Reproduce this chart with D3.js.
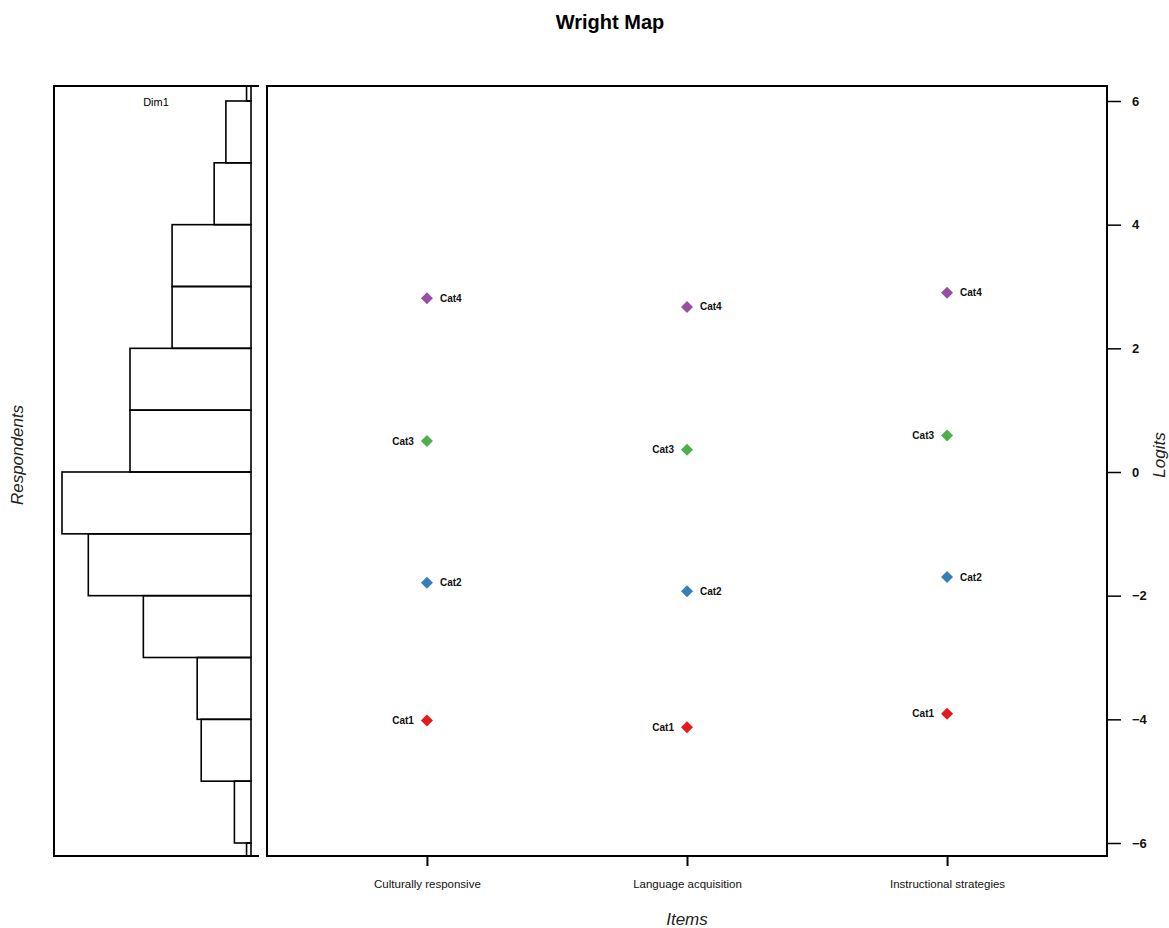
<!DOCTYPE html>
<html>
<head>
<meta charset="utf-8">
<script src="https://cdn.jsdelivr.net/npm/d3@7"></script>
<style>
  html, body { margin: 0; padding: 0; background: #fff; }
  svg { display: block; font-family: "Liberation Sans", Arial, sans-serif; }
</style>
</head>
<body>
<svg id="chart" width="1169" height="928"></svg>
<script>
// ---------- data ----------
const items = ["Culturally responsive", "Language acquisition", "Instructional strategies"];
const categories = ["Cat1", "Cat2", "Cat3", "Cat4"];
const catColors = ["#E41A1C", "#377EB8", "#4DAF4A", "#984EA3"];
// thresholds (logits) per item, Cat1..Cat4
const cat1 = [-4.02, -4.13, -3.91];
const cat2 = [-1.79, -1.93, -1.70];
const cat3 = [0.50, 0.36, 0.59];
const cat4 = [2.81, 2.67, 2.90];
// respondent histogram: bin lower edges (width 1 logit) and counts
const binLower = [6, 5, 4, 3, 2, 1, 0, -1, -2, -3, -4, -5, -6, -7];
const binCounts = [1.1, 6.2, 9.1, 19.5, 19.5, 29.9, 29.9, 46.7, 40.2, 26.6, 13.3, 12.3, 4.1, 1.1];
const yTicks = [-6, -4, -2, 0, 2, 4, 6];

// ---------- layout ----------
const svg = d3.select("#chart");
const main = { left: 267, right: 1107, top: 86, bottom: 856 };
const hist = { left: 54, right: 259, top: 86, bottom: 856 };

const y = d3.scaleLinear().domain([-6, 6]).range([843, 101]);
const x = d3.scalePoint().domain(items).range([main.left, main.right]).padding(0.615);
const hx = d3.scaleLinear().domain([0, d3.max(binCounts)]).range([251, 62]);

// title
svg.append("text").attr("x", 610).attr("y", 29).attr("text-anchor", "middle")
  .attr("font-size", 20).attr("font-weight", "bold").text("Wright Map");

// ---------- histogram panel ----------
svg.append("clipPath").attr("id", "hclip").append("rect")
  .attr("x", hist.left).attr("y", hist.top).attr("width", hist.right - hist.left).attr("height", hist.bottom - hist.top);
const hg = svg.append("g").attr("clip-path", "url(#hclip)");
const bins = binLower.map((b, i) => ({ lo: b, hi: b + 1, n: binCounts[i] }));
hg.selectAll("rect.bar").data(bins).join("rect").attr("class", "bar")
  .attr("x", d => hx(d.n)).attr("width", d => hx(0) - hx(d.n))
  .attr("y", d => y(d.hi)).attr("height", d => y(d.lo) - y(d.hi))
  .attr("fill", "none").attr("stroke", "#000").attr("stroke-width", 1.6);
// box (left, top, bottom)
svg.append("path")
  .attr("d", `M${hist.right},${hist.top}H${hist.left}V${hist.bottom}H${hist.right}`)
  .attr("fill", "none").attr("stroke", "#000").attr("stroke-width", 2);
svg.append("text").attr("x", 156).attr("y", 106).attr("text-anchor", "middle")
  .attr("font-size", 11).text("Dim1");
svg.append("text").attr("transform", "translate(23,455) rotate(-90)")
  .attr("text-anchor", "middle").attr("font-size", 17).attr("font-style", "italic")
  .attr("fill", "#222").text("Respondents");

// ---------- main panel ----------
svg.append("rect").attr("x", main.left).attr("y", main.top)
  .attr("width", main.right - main.left).attr("height", main.bottom - main.top)
  .attr("fill", "none").attr("stroke", "#000").attr("stroke-width", 2);

// right axis
const yAxis = d3.axisRight(y).tickValues(yTicks).tickSize(14).tickPadding(11)
  .tickFormat(d => d < 0 ? "\u2212" + Math.abs(d) : d);
const ya = svg.append("g").attr("transform", `translate(${main.right},0)`).call(yAxis);
ya.select(".domain").remove();
ya.selectAll(".tick line").attr("stroke", "#000").attr("stroke-width", 1.5);
ya.selectAll(".tick text").attr("font-size", 13).attr("font-weight", "bold")
  .attr("font-family", "Liberation Sans, Arial, sans-serif").attr("fill", "#111");

svg.append("text").attr("transform", "translate(1165,455) rotate(-90)")
  .attr("text-anchor", "middle").attr("font-size", 17).attr("font-style", "italic")
  .attr("fill", "#222").text("Logits");

// bottom axis
const xAxis = d3.axisBottom(x).tickSize(10).tickPadding(14);
const xa = svg.append("g").attr("transform", `translate(0,${main.bottom})`).call(xAxis);
xa.select(".domain").remove();
xa.selectAll(".tick line").attr("stroke", "#000").attr("stroke-width", 2);
xa.selectAll(".tick text").attr("font-size", 11.5)
  .attr("font-family", "Liberation Sans, Arial, sans-serif").attr("fill", "#111");

svg.append("text").attr("x", 687).attr("y", 925).attr("text-anchor", "middle")
  .attr("font-size", 17).attr("font-style", "italic").attr("fill", "#222").text("Items");

// points
const series = [cat1, cat2, cat3, cat4];
const pts = [];
series.forEach((vals, ci) => vals.forEach((v, ii) => pts.push({ item: items[ii], cat: categories[ci], ci, v })));
const diamond = d3.symbol().type(d3.symbolSquare).size(72);
svg.selectAll("path.pt").data(pts).join("path").attr("class", "pt")
  .attr("d", diamond)
  .attr("transform", d => `translate(${x(d.item)},${y(d.v)}) rotate(45)`)
  .attr("fill", d => catColors[d.ci]);
svg.selectAll("text.lbl").data(pts).join("text").attr("class", "lbl")
  .attr("x", d => x(d.item) + (d.ci % 2 === 1 ? 13 : -13))
  .attr("y", d => y(d.v) + 3.5)
  .attr("text-anchor", d => d.ci % 2 === 1 ? "start" : "end")
  .attr("font-size", 10).attr("font-weight", "bold").attr("fill", "#111")
  .text(d => d.cat);
</script>
</body>
</html>
